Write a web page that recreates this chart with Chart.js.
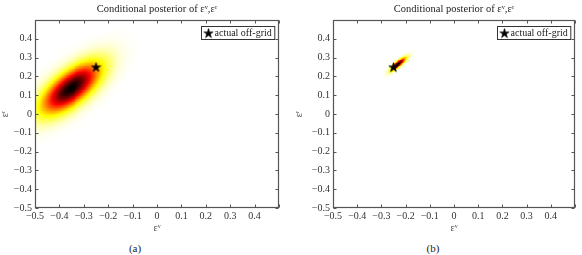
<!DOCTYPE html>
<html>
<head>
<meta charset="utf-8">
<script src="https://cdn.jsdelivr.net/npm/chart.js@4.4.1/dist/chart.umd.min.js"></script>
<style>
  html, body { margin: 0; padding: 0; background: #fff; }
  #wrap { position: relative; width: 582px; height: 255px; overflow: hidden; }
  canvas { position: absolute; top: 0; }
  #caps { position: absolute; left: 0; top: 242px; width: 582px; height: 13px;
          font: normal 11px "Liberation Serif", serif; color: #222; line-height: 13px; }
  #caps span { position: absolute; top: 0; width: 40px; text-align: center; color: #222; font-weight: normal; }
</style>
</head>
<body>
<div id="wrap">
  <canvas id="pa" width="291" height="236" style="left:0"></canvas>
  <canvas id="pb" width="292" height="236" style="left:290px"></canvas>
  <div id="caps"><span style="left:115px">(a)</span><span style="left:413px">(b)</span></div>
</div>
<script>
// data
const titleText = 'Conditional posterior of εᵛ,εʳ';
const xLabel = 'εᵛ';
const yLabel = 'εʳ';
const legendLabel = 'actual off-grid';
const axisMin = -0.5;
const axisMax = 0.5;
const tickStep = 0.1;
const offGridPoint = [{ x: -0.25, y: 0.25 }];

// posterior (a): mean, std devs, correlation
const meanA = [-0.35, 0.14];
const sdA = [0.08, 0.09];
const rhoA = 0.68;
// posterior (b)
const meanB = [-0.228, 0.268];
const sdB = [0.021, 0.023];
const rhoB = 0.85;

const serif = "'Liberation Serif', 'DejaVu Serif', serif";

function fmtTick(v) {
  const r = Math.round(v * 10) / 10;
  if (Math.abs(r - axisMax) < 1e-9) return '';
  if (r === 0) return '0';
  return (r < 0 ? '\u2212' : '') + Math.abs(r).toFixed(1);
}

// pentagram marker
function makeStar(size) {
  const c = document.createElement('canvas');
  c.width = size; c.height = size;
  const g = c.getContext('2d');
  const cx = size / 2, cy = size / 2 + 0.5, ro = size / 2 - 0.5, ri = ro * 0.38;
  g.beginPath();
  for (let i = 0; i < 10; i++) {
    const r = i % 2 ? ri : ro;
    const a = -Math.PI / 2 + i * Math.PI / 5;
    g.lineTo(cx + r * Math.cos(a), cy + r * Math.sin(a));
  }
  g.closePath();
  g.fillStyle = '#000';
  g.fill();
  g.strokeStyle = '#000';
  g.lineWidth = 0.6;
  g.stroke();
  return c;
}
const starImg = makeStar(11);

// reversed "hot" colormap: 0 -> white, 1 -> black
function hotRev(v) {
  const t = 1 - v;
  const r = Math.min(1, t / 0.375);
  const g = Math.max(0, Math.min(1, (t - 0.375) / 0.375));
  const b = Math.max(0, Math.min(1, (t - 0.75) / 0.25));
  return 'rgb(' + Math.round(r * 255) + ',' + Math.round(g * 255) + ',' + Math.round(b * 255) + ')';
}

function heatPlugin(mean, sd, rho) {
  return {
    id: 'heat',
    beforeDatasetsDraw(chart) {
      const { ctx, chartArea: a, scales: { x, y } } = chart;
      ctx.save();
      ctx.beginPath();
      ctx.rect(a.left, a.top, a.width, a.height);
      ctx.clip();
      const step = 0.004;
      const n = Math.round((axisMax - axisMin) / step);
      for (let i = 0; i < n; i++) {
        const gx = axisMin + (i + 0.5) * step;
        const dx = (gx - mean[0]) / sd[0];
        const x0 = Math.floor(x.getPixelForValue(axisMin + i * step));
        const x1 = Math.ceil(x.getPixelForValue(axisMin + (i + 1) * step));
        for (let j = 0; j < n; j++) {
          const gy = axisMin + (j + 0.5) * step;
          const dy = (gy - mean[1]) / sd[1];
          const q = (dx * dx - 2 * rho * dx * dy + dy * dy) / (1 - rho * rho);
          const v = Math.exp(-q / 2);
          if (v < 0.002) continue;
          const y0 = Math.floor(y.getPixelForValue(axisMin + (j + 1) * step));
          const y1 = Math.ceil(y.getPixelForValue(axisMin + j * step));
          ctx.fillStyle = hotRev(v);
          ctx.fillRect(x0, y0, x1 - x0, y1 - y0);
        }
      }
      ctx.restore();
    }
  };
}

const framePlugin = {
  id: 'frame',
  afterDatasetsDraw(chart) {
    const { ctx, chartArea: a, scales: { x, y } } = chart;
    ctx.save();
    ctx.strokeStyle = '#555';
    ctx.lineWidth = 1.2;
    const L = Math.round(a.left) + 0.5, R = Math.round(a.right) - 0.5;
    const T = Math.round(a.top) + 0.5, B = Math.round(a.bottom) - 0.5;
    ctx.strokeRect(L, T, R - L, B - T);
    ctx.lineWidth = 1;
    ctx.beginPath();
    x.ticks.forEach(t => {
      const px = Math.round(x.getPixelForValue(t.value)) + 0.5;
      ctx.moveTo(px, B); ctx.lineTo(px, B - 3);
      ctx.moveTo(px, T); ctx.lineTo(px, T + 3);
    });
    y.ticks.forEach(t => {
      const py = Math.round(y.getPixelForValue(t.value)) + 0.5;
      ctx.moveTo(L, py); ctx.lineTo(L + 3, py);
      ctx.moveTo(R, py); ctx.lineTo(R - 3, py);
    });
    ctx.stroke();
    ctx.restore();
  }
};

const legendBoxPlugin = {
  id: 'legendBox',
  afterDraw(chart) {
    const { ctx, chartArea: a } = chart;
    const label = chart.data.datasets[0].label;
    ctx.save();
    ctx.font = '10px ' + serif;
    const tw = ctx.measureText(label).width;
    const w = 13 + tw + 3, h = 13;
    const bx = Math.round(a.right - 5 - w) + 0.5, by = Math.round(a.top + 6) + 0.5;
    ctx.fillStyle = '#fff';
    ctx.fillRect(bx, by, w, h);
    ctx.strokeStyle = '#333';
    ctx.lineWidth = 1;
    ctx.strokeRect(bx, by, w, h);
    ctx.drawImage(starImg, bx + 1.5, by + 1);
    ctx.fillStyle = '#222';
    ctx.textBaseline = 'middle';
    ctx.fillText(label, bx + 13, by + h / 2 + 0.5);
    ctx.restore();
  }
};

function makeChart(id, mean, sd, rho, plotLeft, padRight, yTitlePad) {
  const tickFont = { family: serif, size: 10 };
  return new Chart(document.getElementById(id), {
    type: 'scatter',
    data: {
      datasets: [{
        label: legendLabel,
        data: offGridPoint,
        pointStyle: starImg,
        pointRadius: 6,
        borderColor: '#000',
        backgroundColor: '#000'
      }]
    },
    options: {
      responsive: false,
      animation: false,
      devicePixelRatio: 1,
      layout: { padding: { left: 0, right: padRight, top: 0, bottom: 0 } },
      plugins: {
        legend: { display: false },
        tooltip: { enabled: false },
        title: {
          display: true,
          text: titleText,
          fullSize: false,
          color: '#222',
          font: { family: serif, size: 10.5, weight: 'normal', lineHeight: 1.2 },
          padding: { top: 3, bottom: 4.4 }
        }
      },
      scales: {
        x: {
          type: 'linear', min: axisMin, max: axisMax,
          ticks: { stepSize: tickStep, callback: fmtTick, font: tickFont, color: '#333',
                   padding: 2, maxRotation: 0, autoSkip: false },
          grid: { display: false, drawTicks: false },
          border: { display: false },
          title: { display: true, text: xLabel, color: '#444',
                   font: { family: serif, size: 10, lineHeight: 1 }, padding: { top: 0, bottom: 3 } },
          afterFit(s) { s.height = 28; }
        },
        y: {
          type: 'linear', min: axisMin, max: axisMax,
          ticks: { stepSize: tickStep, callback: fmtTick, font: tickFont, color: '#333',
                   padding: 3, autoSkip: false },
          grid: { display: false, drawTicks: false },
          border: { display: false },
          title: { display: true, text: yLabel, color: '#444',
                   font: { family: serif, size: 10, lineHeight: 1 }, padding: { top: yTitlePad, bottom: 0 } },
          afterFit(s) { s.width = plotLeft; }
        }
      }
    },
    plugins: [heatPlugin(mean, sd, rho), framePlugin, legendBoxPlugin]
  });
}

makeChart('pa', meanA, sdA, rhoA, 35, 12, 0);
makeChart('pb', meanB, sdB, rhoB, 43, 5, 4);
</script>
</body>
</html>
